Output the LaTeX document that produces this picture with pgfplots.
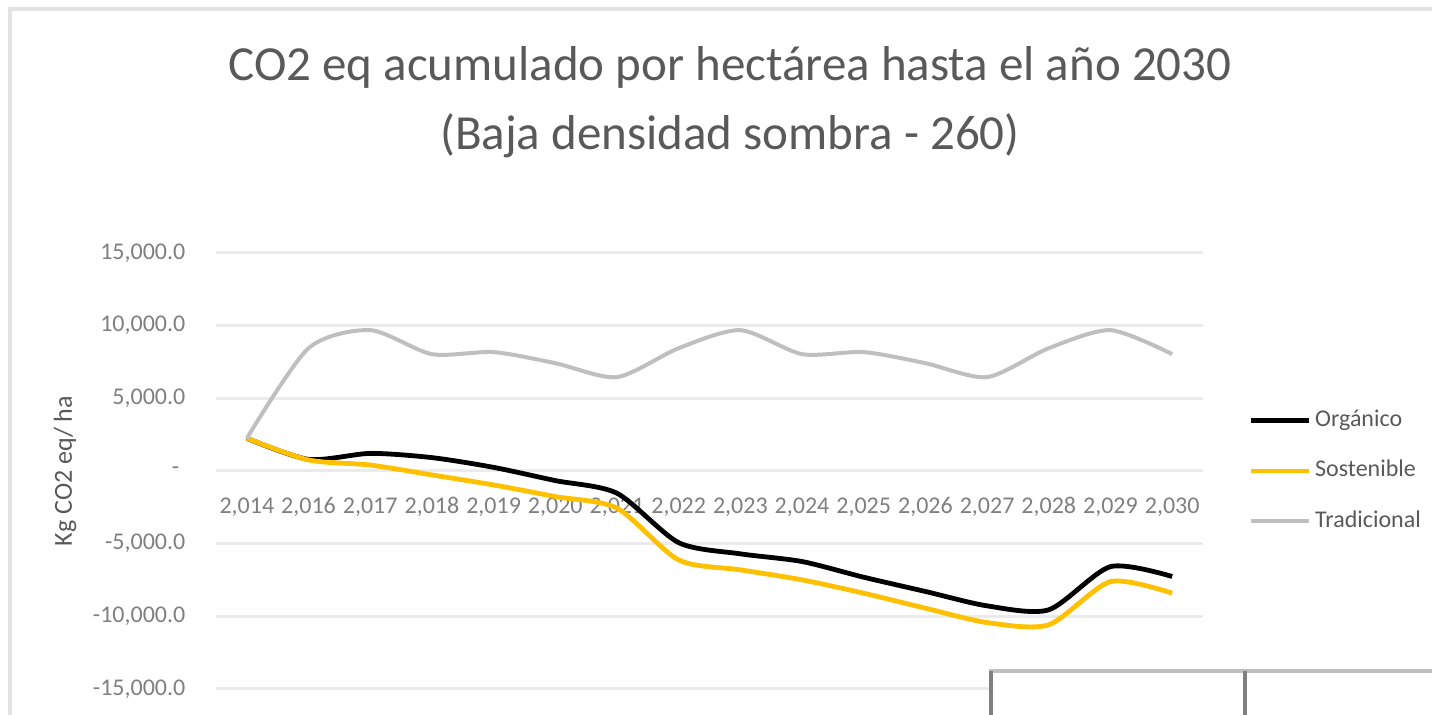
\documentclass[border=0pt]{standalone}
\usepackage{fontspec}
\setmainfont{Carlito}
\usepackage{pgfplots}
\pgfplotsset{compat=1.18}
\definecolor{cTitle}{HTML}{595959}
\definecolor{cTick}{HTML}{7F7F7F}
\definecolor{cGrid}{HTML}{EBEBEB}
\definecolor{cOrg}{HTML}{000000}
\definecolor{cSos}{HTML}{FFC000}
\definecolor{cTra}{HTML}{BFBFBF}
\definecolor{cBorder}{HTML}{E3E3E3}
\definecolor{cTabH}{HTML}{BFBFBF}
\definecolor{cTabV}{HTML}{808080}
\begin{document}
\begin{tikzpicture}
\path[use as bounding box] (0,0) rectangle (716pt,357.5pt);
\begin{axis}[
  at={(108pt,13pt)}, anchor=south west,
  scale only axis, width=493.5pt, height=218pt,
  xmin=-0.5, xmax=15.5, ymin=-15000, ymax=15000,
  axis x line=middle, axis y line=left,
  axis line style={draw=none},
  tick style={draw=none},
  scaled y ticks=false,
  hide obscured x ticks=false, hide obscured y ticks=false,
  xtick={0,...,15},
  xticklabels={{2,014},{2,016},{2,017},{2,018},{2,019},{2,020},{2,021},{2,022},{2,023},{2,024},{2,025},{2,026},{2,027},{2,028},{2,029},{2,030}},
  ytick={-15000,-10000,-5000,0,5000,10000,15000},
  yticklabels={{-15,000.0},{-10,000.0},{-5,000.0},{-\hspace*{3pt}},{5,000.0},{10,000.0},{15,000.0}},
  ymajorgrids,
  major grid style={draw=cGrid, line width=1.5pt},
  xticklabel style={font=\fontsize{12}{14}\selectfont, text=cTick, anchor=north, inner sep=0pt, text height=8pt, text depth=2pt, yshift=-11pt},
  yticklabel style={font=\fontsize{12}{14}\selectfont, text=cTick, anchor=east, inner sep=0pt, xshift=-13pt},
  ylabel={Kg CO2 eq/ ha},
  ylabel style={at={(axis description cs:-0.153,0.5)}, anchor=center, font=\fontsize{13}{16}\selectfont, text=cTitle},
  title={CO2 eq acumulado por hectárea hasta el año 2030\\(Baja densidad sombra - 260)},
  title style={at={(axis description cs:0.5208,1.447)}, anchor=north, inner sep=0pt, align=center, font=\fontsize{24.5}{34.5}\selectfont, text=cTitle},
  legend style={at={(axis description cs:1.0456,0.5)}, anchor=west, draw=none, fill=none, inner sep=0pt, row sep=13.25pt, column sep=2pt, font=\fontsize{12}{14}\selectfont, text=cTitle, nodes={inner sep=0pt, text height=9pt, text depth=3pt}},
  legend cell align=left,
  legend image code/.code={\draw[#1] (0pt,0pt) -- (29pt,0pt);},
  clip=false,
]
\addplot[cOrg, line width=2.4pt, smooth, tension=0.45] coordinates {
(0,2250) (1,800) (2,1210) (3,920) (4,250) (5,-660) (6,-1530) (7,-4930)
(8,-5700) (9,-6230) (10,-7310) (11,-8290) (12,-9280) (13,-9550) (14,-6580) (15,-7260)};
\addlegendentry{Orgánico}
\addplot[cSos, line width=2.4pt, smooth, tension=0.45] coordinates {
(0,2250) (1,760) (2,410) (3,-270) (4,-960) (5,-1760) (6,-2560) (7,-6120)
(8,-6800) (9,-7490) (10,-8410) (11,-9440) (12,-10430) (13,-10580) (14,-7610) (15,-8410)};
\addlegendentry{Sostenible}
\addplot[cTra, line width=2pt, smooth, tension=0.45] coordinates {
(0,2250) (1,8450) (2,9690) (3,8040) (4,8180) (5,7420) (6,6460) (7,8450)
(8,9690) (9,8040) (10,8180) (11,7420) (12,6460) (13,8450) (14,9690) (15,8040)};
\addlegendentry{Tradicional}
\end{axis}
\draw[cBorder, line width=2pt] (5pt,0pt) -- (5pt,353pt) -- (716pt,353pt);
\fill[white] (494.5pt,0pt) rectangle (716pt,22pt);
\draw[cTabH, line width=2pt] (494.5pt,22pt) -- (716pt,22pt);
\draw[cTabV, line width=2pt] (495.5pt,0pt) -- (495.5pt,22pt);
\draw[cTabV, line width=2pt] (622.5pt,0pt) -- (622.5pt,22pt);
\end{tikzpicture}
\end{document}
